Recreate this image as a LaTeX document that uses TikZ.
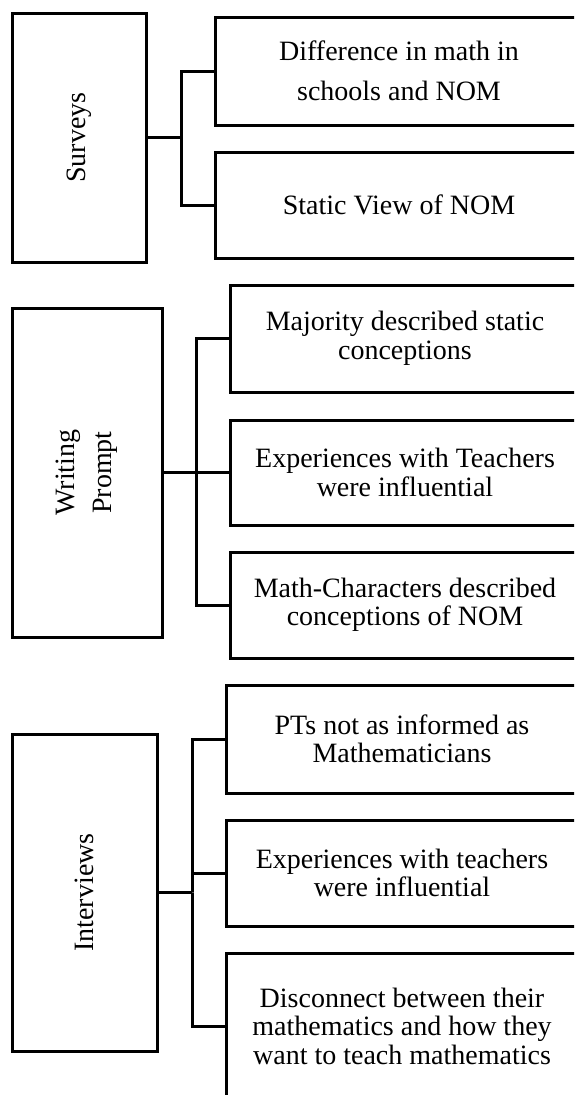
\documentclass[tikz,border=0pt]{standalone}
\usepackage{fontspec}
\setmainfont{Liberation Serif}
\begin{document}
\begin{tikzpicture}[x=1pt,y=-1pt,
  frame/.style={draw, line width=3pt, inner sep=0pt, fill=white},
  item/.style={frame, align=center, font=\fontsize{28}{28.5}\selectfont},
  vlabel/.style={rotate=90, align=center, inner sep=0pt, font=\fontsize{28}{37}\selectfont},
  link/.style={line width=3pt}]
\useasboundingbox (0,0) rectangle (574,1095);
\clip (0,0) rectangle (574,1095);

% --- Surveys -------------------------------------------------------------
\node[frame, minimum width=134, minimum height=249] (sv) at (79,137.5) {};
\node[vlabel] (svt) at (sv) {Surveys};
\node[item, minimum width=368, minimum height=108,
      font=\fontsize{28}{40}\selectfont] (s1) at (399,71)
      {Difference in math in\\schools and NOM};
\node[item, minimum width=368, minimum height=106] (s2) at (399,205)
      {Static View of NOM};
\coordinate (sj) at (181,137.5);
\draw[link] (sv.east) -- (sj);
\draw[link] (s1.west) -| (sj) |- (s2.west);

% --- Writing prompt ------------------------------------------------------
\node[frame, minimum width=150, minimum height=329] (wp) at (87,472.5) {};
\node[vlabel] (wpt) at (wp) {Writing\\Prompt};
\node[item, minimum width=350, minimum height=107] (w1) at (405,338.5)
      {Majority described static\\conceptions};
\node[item, minimum width=350, minimum height=105] (w2) at (405,472.5)
      {Experiences with Teachers\\were influential};
\node[item, minimum width=350, minimum height=106] (w3) at (405,605)
      {Math-Characters described\\conceptions of NOM};
\coordinate (wj) at (196,472.5);
\draw[link] (wp.east) -- (w2.west);
\draw[link] (w1.west) -| (wj) |- (w3.west);

% --- Interviews ----------------------------------------------------------
\node[frame, minimum width=145, minimum height=317] (iv) at (84.5,892.5) {};
\node[vlabel] (ivt) at (iv) {Interviews};
\node[item, minimum width=352, minimum height=108] (i1) at (402,739)
      {PTs not as informed as\\Mathematicians};
\node[item, minimum width=352, minimum height=106] (i2) at (402,873)
      {Experiences with teachers\\were influential};
\node[item, minimum width=352, minimum height=146] (i3) at (402,1026)
      {Disconnect between their\\mathematics and how they\\want to teach mathematics};
\coordinate (ij) at (192,892.5);
\draw[link] (iv.east) -- (ij);
\draw[link] (i1.west) -| (ij) |- (i2.west);
\draw[link] (ij) |- (i3.west);
\end{tikzpicture}
\end{document}
